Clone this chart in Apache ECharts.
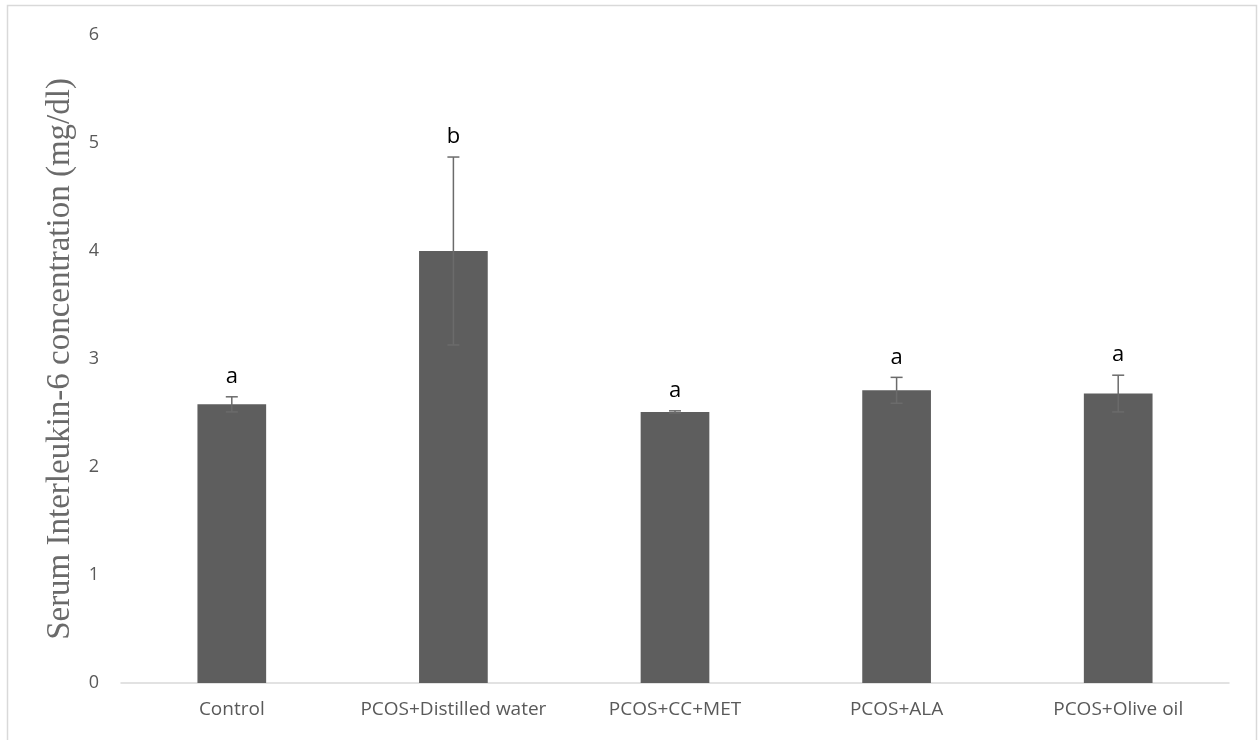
<!DOCTYPE html>
<html>
<head>
<meta charset="utf-8">
<script src="https://cdn.jsdelivr.net/npm/echarts@6/dist/echarts.min.js"></script>
<style>
  html, body { margin: 0; padding: 0; background: #fff; }
  #chart { width: 1258px; height: 740px; }
</style>
</head>
<body>
<div id="chart"></div>
<script>
// Serum IL-6 by treatment group: mean, error (±), significance letter
const groups = ['Control', 'PCOS+Distilled water', 'PCOS+CC+MET', 'PCOS+ALA', 'PCOS+Olive oil'];
const means = [2.58, 4.0, 2.51, 2.71, 2.68];
const errors = [0.07, 0.87, 0.01, 0.12, 0.17];
const letters = ['a', 'b', 'a', 'a', 'a'];
const yTicks = [0, 1, 2, 3, 4, 5, 6];

const chart = echarts.init(document.getElementById('chart'));

const errData = groups.map((g, i) => [i, means[i] - errors[i], means[i] + errors[i], letters[i]]);

chart.setOption({
  animation: false,
  backgroundColor: '#ffffff',
  graphic: [{
    type: 'rect',
    shape: { x: 7.5, y: 5.5, width: 1249, height: 760 },
    style: { fill: 'none', stroke: '#d9d9d9', lineWidth: 1.5 },
    silent: true
  }],
  grid: { left: 121, right: 29, top: 35, bottom: 57, containLabel: false },
  xAxis: {
    type: 'category',
    data: groups,
    axisLine: { lineStyle: { color: '#d9d9d9', width: 1.5 } },
    axisTick: { show: false },
    axisLabel: { interval: 0, hideOverlap: false, color: '#595959', fontFamily: 'Open Sans', fontSize: 19, margin: 17 }
  },
  yAxis: {
    type: 'value',
    min: yTicks[0],
    max: yTicks[yTicks.length - 1],
    interval: 1,
    name: 'Serum Interleukin-6 concentration (mg/dl)',
    nameLocation: 'middle',
    nameGap: 44,
    nameTextStyle: { color: '#6a6a6a', fontFamily: 'Liberation Serif', fontSize: 33 },
    axisLine: { show: false },
    axisTick: { show: false },
    splitLine: { show: false },
    axisLabel: { color: '#595959', fontFamily: 'Open Sans', fontSize: 18, margin: 22 }
  },
  series: [{
    type: 'bar',
    data: means,
    barWidth: '31%',
    itemStyle: { color: '#5e5e5e' }
  }, {
    type: 'custom',
    data: errData,
    z: 10,
    renderItem: function (params, api) {
      const x = api.value(0);
      const lo = api.coord([x, api.value(1)]);
      const hi = api.coord([x, api.value(2)]);
      const cap = 6;
      const style = { stroke: '#6b6b6b', lineWidth: 1.5 };
      return {
        type: 'group',
        children: [
          { type: 'line', shape: { x1: hi[0], y1: hi[1], x2: lo[0], y2: lo[1] }, style: style },
          { type: 'line', shape: { x1: hi[0] - cap, y1: hi[1], x2: hi[0] + cap, y2: hi[1] }, style: style },
          { type: 'line', shape: { x1: lo[0] - cap, y1: lo[1], x2: lo[0] + cap, y2: lo[1] }, style: style },
          {
            type: 'text',
            x: hi[0], y: hi[1] - 9,
            style: {
              text: api.value(3),
              fill: '#000000',
              font: '22px "Open Sans"',
              align: 'center',
              verticalAlign: 'bottom'
            }
          }
        ]
      };
    }
  }]
});
</script>
</body>
</html>
